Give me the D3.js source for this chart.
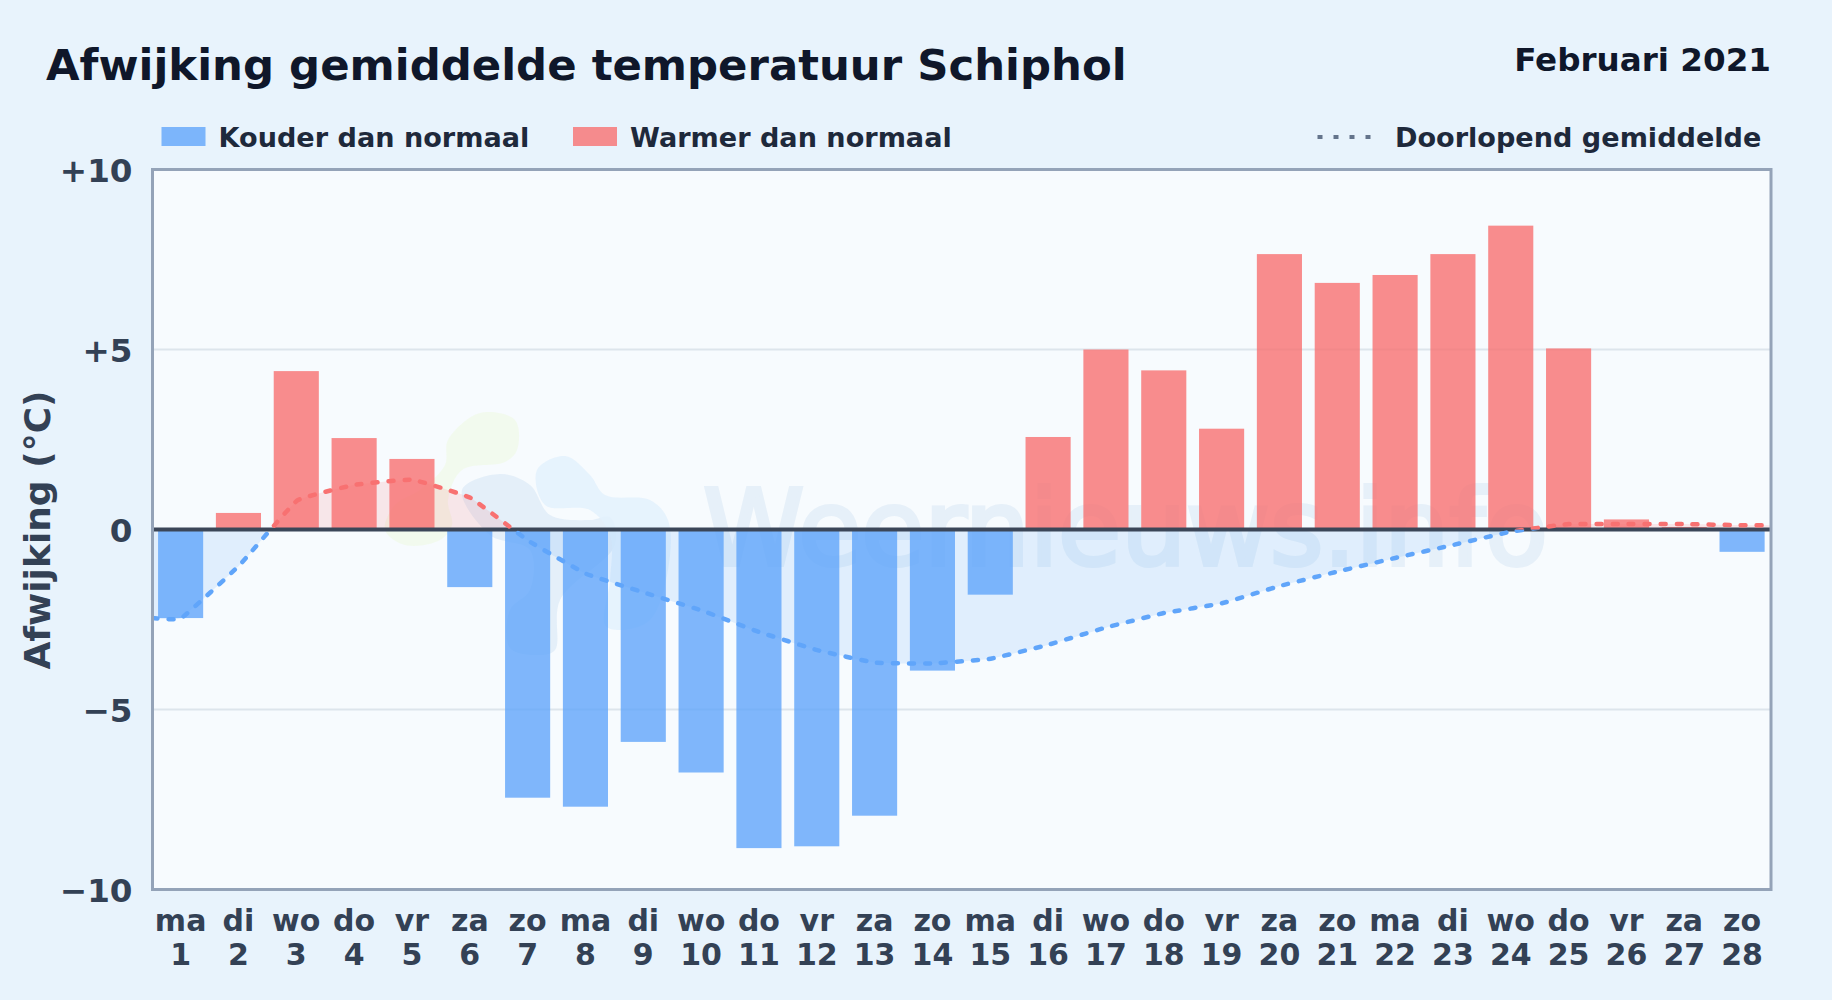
<!DOCTYPE html>
<html>
<head>
<meta charset="utf-8">
<script src="https://cdn.jsdelivr.net/npm/d3@7"></script>
<style>
  html, body { margin: 0; padding: 0; background: #e8f3fc; }
  svg { display: block; }
  text { font-family: "DejaVu Sans", sans-serif; font-weight: 700; }
</style>
</head>
<body>
<svg id="chart"></svg>
<script>
const days = d3.range(1, 29);
const weekdays = ['ma', 'di', 'wo', 'do', 'vr', 'za', 'zo', 'ma', 'di', 'wo', 'do', 'vr', 'za', 'zo',
  'ma', 'di', 'wo', 'do', 'vr', 'za', 'zo', 'ma', 'di', 'wo', 'do', 'vr', 'za', 'zo'];
const deviation = [-2.46, 0.46, 4.4, 2.54, 1.96, -1.6, -7.45, -7.7, -5.9, -6.75, -8.85, -8.8, -7.95, -3.92,
  -1.81, 2.57, 5.0, 4.42, 2.8, 7.65, 6.85, 7.07, 7.65, 8.44, 5.03, 0.28, 0.07, -0.62];
const runningMean = [-2.46, -1.0, 0.8, 1.24, 1.38, 0.88, -0.31, -1.23, -1.75, -2.25, -2.85, -3.35, -3.7, -3.72,
  -3.59, -3.2, -2.72, -2.32, -2.05, -1.57, -1.17, -0.79, -0.43, -0.06, 0.15, 0.15, 0.15, 0.12];
const yTicks = [10, 5, 0, -5, -10];
const yTickLabels = ['+10', '+5', '0', '\u22125', '\u221210'];

const width = 1832;
const height = 1000;
const margin = { top: 169.5, right: 61, bottom: 110.5, left: 152.5 };
const blue = '#60a5fa';
const red = '#f87171';

const svg = d3.select('#chart').attr('width', width).attr('height', height);

const x = d3.scaleBand()
  .domain(days)
  .range([margin.left - 0.8, width - margin.right])
  .paddingInner(0.22)
  .paddingOuter(0.11);

const xLine = d3.scaleLinear()
  .domain([0.5, 28.5])
  .range([margin.left, width - margin.right]);

const y = d3.scaleLinear()
  .domain([-10, 10])
  .range([height - margin.bottom, margin.top]);

const plotW = width - margin.left - margin.right;
const plotH = height - margin.top - margin.bottom;

// plot background
svg.append('rect')
  .attr('x', margin.left)
  .attr('y', margin.top)
  .attr('width', plotW)
  .attr('height', plotH)
  .attr('fill', '#f7fbfe');

// clips for the part above and below zero
const defs = svg.append('defs');
defs.append('clipPath').attr('id', 'above').append('rect')
  .attr('x', margin.left).attr('y', margin.top)
  .attr('width', plotW).attr('height', y(0) - margin.top);
defs.append('clipPath').attr('id', 'below').append('rect')
  .attr('x', margin.left).attr('y', y(0))
  .attr('width', plotW).attr('height', y(-10) - y(0));

// gridlines
svg.append('g').selectAll('line')
  .data([5, -5])
  .enter().append('line')
  .attr('x1', margin.left)
  .attr('x2', width - margin.right)
  .attr('y1', d => y(d))
  .attr('y2', d => y(d))
  .attr('stroke', '#dde5ec')
  .attr('stroke-width', 2);

// watermark logo and text
const blob = d3.line().curve(d3.curveCatmullRomClosed.alpha(0.5));
const logo = svg.append('g');
logo.append('path')
  .attr('d', blob([[448, 440], [480, 413], [515, 420], [517, 450], [505, 462], [462, 470], [448, 500],
    [452, 525], [440, 540], [405, 545], [385, 530], [395, 505], [420, 490], [445, 465]]))
  .attr('fill', '#f0f9e8').attr('opacity', 0.75);
logo.append('path')
  .attr('d', blob([[462, 490], [500, 474], [530, 485], [550, 515], [590, 520], [610, 517], [615, 545],
    [560, 600], [555, 650], [540, 655], [510, 648], [510, 610], [530, 590], [530, 550], [490, 535]]))
  .attr('fill', '#dbe9f6').attr('opacity', 0.7);
logo.append('path')
  .attr('d', blob([[537, 470], [565, 456], [590, 475], [605, 495], [650, 500], [668, 520], [668, 570],
    [650, 620], [620, 630], [605, 625], [610, 580], [610, 535], [590, 510], [545, 505]]))
  .attr('fill', '#e3f1fd').attr('opacity', 0.85);

svg.append('text')
  .attr('x', 703)
  .attr('y', 565)
  .style('font-weight', 400)
  .attr('font-size', 106)
  .attr('textLength', 845)
  .attr('lengthAdjust', 'spacingAndGlyphs')
  .attr('fill', '#dbe9f6')
  .attr('stroke', '#dbe9f6')
  .attr('stroke-width', 4)
  .attr('opacity', 0.6)
  .text('Weernieuws.info');

// running mean area
const meanCurve = d3.curveCardinal.tension(0.7);

const area = d3.area()
  .x(d => xLine(d.day))
  .y0(y(0))
  .y1(d => y(d.value))
  .curve(meanCurve);

const line = d3.line()
  .x(d => xLine(d.day))
  .y(d => y(d.value))
  .curve(meanCurve);

const meanData = [{ day: 0.5, value: runningMean[0] }]
  .concat(days.map((d, i) => ({ day: d, value: runningMean[i] })))
  .concat([{ day: 28.5, value: runningMean[27] }]);

svg.append('path').datum(meanData)
  .attr('clip-path', 'url(#below)')
  .attr('fill', blue).attr('fill-opacity', 0.15)
  .attr('d', area);
svg.append('path').datum(meanData)
  .attr('clip-path', 'url(#above)')
  .attr('fill', red).attr('fill-opacity', 0.15)
  .attr('d', area);

// bars
svg.append('g').selectAll('rect')
  .data(deviation)
  .enter().append('rect')
  .attr('x', (d, i) => x(days[i]))
  .attr('y', d => d > 0 ? y(d) : y(0))
  .attr('width', x.bandwidth())
  .attr('height', d => Math.abs(y(d) - y(0)))
  .attr('fill', d => d > 0 ? red : blue)
  .attr('fill-opacity', 0.8);

// zero line
svg.append('line')
  .attr('x1', margin.left)
  .attr('x2', width - margin.right)
  .attr('y1', y(0))
  .attr('y2', y(0))
  .attr('stroke', '#3b4658')
  .attr('stroke-width', 4);

// running mean line, blue below zero and red above
[['below', blue], ['above', red]].forEach(([clip, color]) => {
  svg.append('path').datum(meanData)
    .attr('clip-path', `url(#${clip})`)
    .attr('fill', 'none')
    .attr('stroke', color)
    .attr('stroke-width', 4.5)
    .attr('stroke-linecap', 'round')
    .attr('stroke-dasharray', '5 11')
    .attr('d', line);
});

// frame
svg.append('rect')
  .attr('x', margin.left)
  .attr('y', margin.top)
  .attr('width', plotW)
  .attr('height', plotH)
  .attr('fill', 'none')
  .attr('stroke', '#94a3b8')
  .attr('stroke-width', 3);

// axes
const yAxis = d3.axisLeft(y)
  .tickValues(yTicks)
  .tickSize(0)
  .tickPadding(20)
  .tickFormat((d, i) => yTickLabels[i]);

const yG = svg.append('g')
  .attr('transform', `translate(${margin.left}, 1.5)`)
  .call(yAxis);
yG.select('.domain').remove();
yG.selectAll('text')
  .attr('font-size', 32.6)
  .attr('fill', '#334155')
  .attr('font-family', '"DejaVu Sans", sans-serif');

const xAxis = d3.axisBottom(x).tickSize(0).tickFormat('');
const xG = svg.append('g')
  .attr('transform', `translate(0, ${height - margin.bottom + 0.7})`)
  .call(xAxis);
xG.select('.domain').remove();
xG.selectAll('.tick text').each(function (d, i) {
  const t = d3.select(this)
    .attr('y', 0)
    .attr('dy', null)
    .attr('font-size', 30)
    .attr('fill', '#334155')
    .attr('font-family', '"DejaVu Sans", sans-serif');
  t.append('tspan').attr('x', 0).attr('y', 41).text(weekdays[i]);
  t.append('tspan').attr('x', 0).attr('y', 75).text(days[i]);
});

svg.append('text')
  .attr('transform', 'translate(50, 530) rotate(-90)')
  .attr('text-anchor', 'middle')
  .attr('font-size', 36)
  .attr('fill', '#334155')
  .text('Afwijking (\u00b0C)');

// title
svg.append('text')
  .attr('x', 46)
  .attr('y', 80)
  .attr('font-size', 43.4)
  .attr('fill', '#0f172a')
  .text('Afwijking gemiddelde temperatuur Schiphol');

svg.append('text')
  .attr('x', 1771)
  .attr('y', 71)
  .attr('text-anchor', 'end')
  .attr('font-size', 32.6)
  .attr('fill', '#0f172a')
  .text('Februari 2021');

// legend
const legend = svg.append('g');
[[161.5, blue, 'Kouder dan normaal'], [573, red, 'Warmer dan normaal']].forEach(([lx, color, label]) => {
  legend.append('rect')
    .attr('x', lx).attr('y', 127)
    .attr('width', 44).attr('height', 19)
    .attr('fill', color).attr('fill-opacity', 0.8);
  legend.append('text')
    .attr('x', lx + 57).attr('y', 146.5)
    .attr('font-size', 27.1)
    .attr('fill', '#1e293b')
    .text(label);
});
legend.append('line')
  .attr('x1', 1317.5).attr('x2', 1373)
  .attr('y1', 137).attr('y2', 137)
  .attr('stroke', '#64748b')
  .attr('stroke-width', 4)
  .attr('stroke-dasharray', '5 11');
legend.append('text')
  .attr('x', 1395).attr('y', 146.5)
  .attr('font-size', 27.1)
  .attr('fill', '#1e293b')
  .text('Doorlopend gemiddelde');
</script>
</body>
</html>
